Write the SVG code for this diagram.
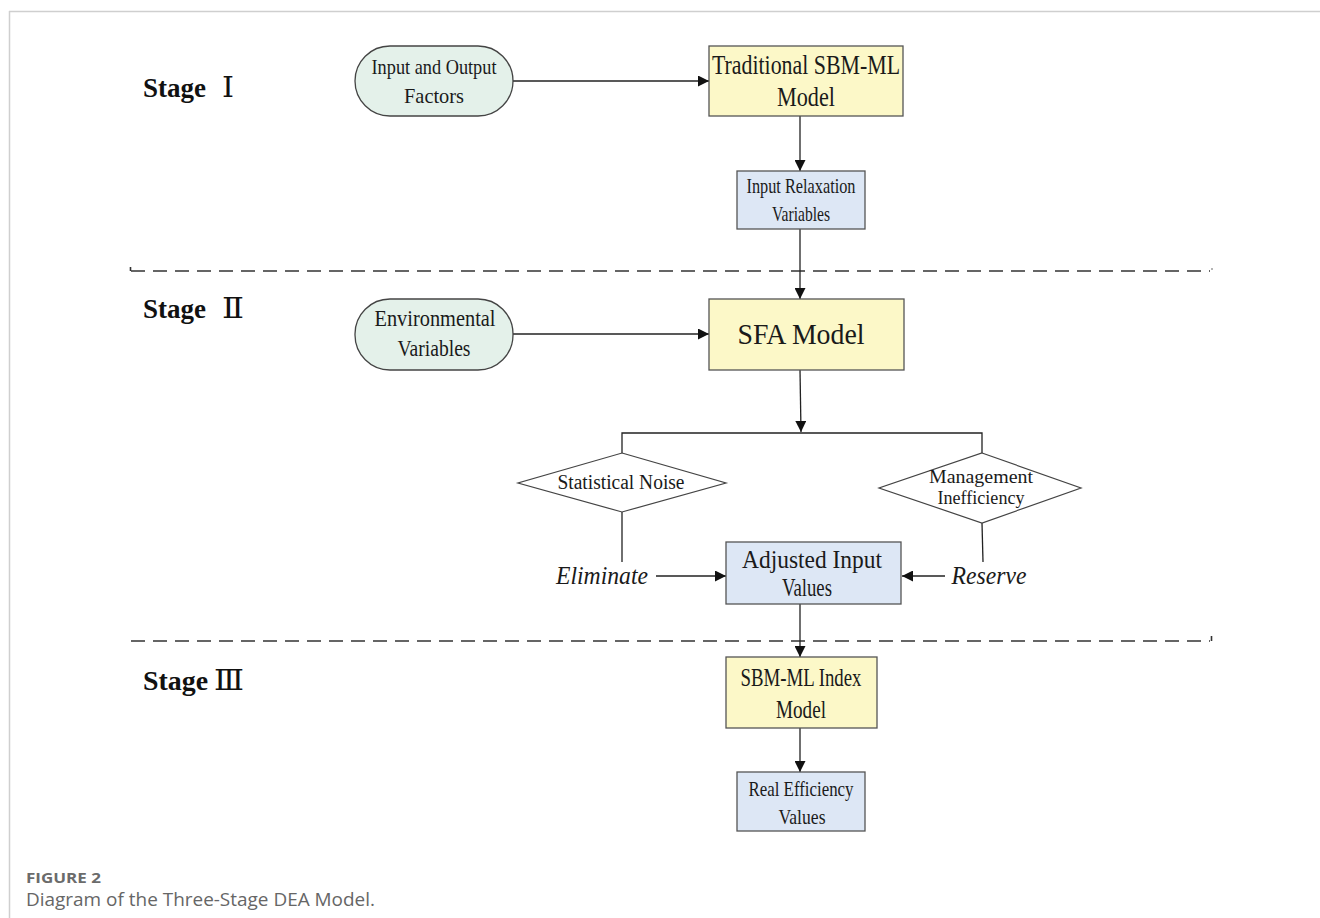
<svg xmlns="http://www.w3.org/2000/svg" width="1320" height="918" viewBox="0 0 1320 918">
<defs>
<marker id="ah" viewBox="0 0 10 10" refX="10" refY="5" markerWidth="11" markerHeight="11" markerUnits="userSpaceOnUse" orient="auto">
<path d="M0,0 L10,5 L0,10 z" fill="#111"/>
</marker>
<style>
.t{font-family:"Liberation Serif","Times New Roman",Times,serif;fill:#1a1a1a;text-anchor:middle}
.st{font-family:"Liberation Serif","Times New Roman",Times,serif;font-weight:bold;font-size:27px;fill:#111}
.num{font-family:"DejaVu Serif","Liberation Serif",serif;font-weight:normal;font-size:27px;fill:#111}
.pill{fill:#e4f1ea;stroke:#444;stroke-width:1.3}
.yel{fill:#fcf8c8;stroke:#555;stroke-width:1.3}
.blu{fill:#dde7f5;stroke:#555;stroke-width:1.3}
.dia{fill:#ffffff;stroke:#444;stroke-width:1.2}
.c{stroke:#222;stroke-width:1.3;fill:none}
.a{stroke:#222;stroke-width:1.3;fill:none;marker-end:url(#ah)}
.dash{stroke:#333;stroke-width:1.6;stroke-dasharray:14,8;fill:none}
.it{font-family:"Liberation Serif","Times New Roman",Times,serif;font-style:italic;font-size:25px;fill:#1a1a1a;text-anchor:middle}
</style>
</defs>
<rect width="1320" height="918" fill="#fff"/>
<g id="frame">
<line x1="9" y1="11.5" x2="1320" y2="11.5" stroke="#cfcfcf" stroke-width="1.5"/>
<line x1="9.5" y1="11" x2="9.5" y2="918" stroke="#cfcfcf" stroke-width="1.5"/>
</g>
<g id="separators">
<path class="dash" d="M131,271 L1210,271"/>
<path d="M130.5,267 L130.5,271" stroke="#333" stroke-width="1.6"/>
<circle cx="1212" cy="269" r="0.8" fill="#555"/>
<path class="dash" d="M131,641 L1210,641"/>
<path d="M1211.5,636 L1211.5,641" stroke="#333" stroke-width="1.6"/>
</g>
<g id="stage-labels">
<text class="st" x="143" y="97">Stage</text>
<text class="num" x="222" y="97" textLength="12" lengthAdjust="spacingAndGlyphs">Ⅰ</text>
<text class="st" x="143" y="318">Stage</text>
<text class="num" x="222" y="318" textLength="22" lengthAdjust="spacingAndGlyphs">Ⅱ</text>
<text class="st" x="143" y="690" textLength="65" lengthAdjust="spacingAndGlyphs">Stage</text>
<text class="num" x="214" y="690" textLength="30" lengthAdjust="spacingAndGlyphs">Ⅲ</text>
</g>
<g id="connectors">
<line class="a" x1="513" y1="81" x2="709" y2="81"/>
<line class="a" x1="800" y1="116" x2="800" y2="171"/>
<line class="a" x1="800" y1="229" x2="800" y2="299"/>
<line class="a" x1="513" y1="334" x2="709" y2="334"/>
<line class="a" x1="800" y1="370" x2="801" y2="432"/>
<path class="c" d="M622,453 L622,433 L982,433 L982,453"/>
<line class="c" x1="622" y1="512" x2="622" y2="562"/>
<line class="c" x1="982" y1="523" x2="983" y2="562"/>
<line class="a" x1="656" y1="576" x2="726" y2="576"/>
<line class="a" x1="945" y1="576" x2="902" y2="576"/>
<line class="a" x1="800" y1="604" x2="800" y2="657"/>
<line class="a" x1="800" y1="728" x2="800" y2="772"/>
</g>
<g id="input-output-factors">
<rect class="pill" x="355" y="46" width="158" height="70" rx="35" ry="35"/>
<text class="t" x="434" y="74" font-size="22" textLength="125" lengthAdjust="spacingAndGlyphs">Input and Output</text>
<text class="t" x="434" y="103" font-size="22" textLength="60" lengthAdjust="spacingAndGlyphs">Factors</text>
</g>
<g id="traditional-sbm-ml">
<rect class="yel" x="709" y="46" width="194" height="70"/>
<text class="t" x="806" y="74" font-size="27" textLength="188" lengthAdjust="spacingAndGlyphs">Traditional SBM-ML</text>
<text class="t" x="806" y="106" font-size="27" textLength="58" lengthAdjust="spacingAndGlyphs">Model</text>
</g>
<g id="input-relaxation">
<rect class="blu" x="737" y="171" width="128" height="58"/>
<text class="t" x="801" y="193" font-size="21" textLength="109" lengthAdjust="spacingAndGlyphs">Input Relaxation</text>
<text class="t" x="801" y="221" font-size="21" textLength="58" lengthAdjust="spacingAndGlyphs">Variables</text>
</g>
<g id="environmental-variables">
<rect class="pill" x="355" y="299" width="158" height="71" rx="35" ry="35"/>
<text class="t" x="435" y="326" font-size="23" textLength="121" lengthAdjust="spacingAndGlyphs">Environmental</text>
<text class="t" x="434" y="356" font-size="23" textLength="73" lengthAdjust="spacingAndGlyphs">Variables</text>
</g>
<g id="sfa-model">
<rect class="yel" x="709" y="299" width="195" height="71"/>
<text class="t" x="801" y="344" font-size="30" textLength="127" lengthAdjust="spacingAndGlyphs">SFA Model</text>
</g>
<g id="statistical-noise">
<polygon class="dia" points="622,453 726,483 622,512 518,483"/>
<text class="t" x="621" y="489" font-size="20" textLength="127" lengthAdjust="spacingAndGlyphs">Statistical Noise</text>
</g>
<g id="management-inefficiency">
<polygon class="dia" points="982,453 1081,488 982,523 879,488"/>
<text class="t" x="981" y="483" font-size="19" textLength="104" lengthAdjust="spacingAndGlyphs">Management</text>
<text class="t" x="981" y="504" font-size="19" textLength="87" lengthAdjust="spacingAndGlyphs">Inefficiency</text>
</g>
<g id="eliminate">
<text class="it" x="602" y="584" textLength="92" lengthAdjust="spacingAndGlyphs">Eliminate</text>
</g>
<g id="reserve">
<text class="it" x="989" y="584" textLength="75" lengthAdjust="spacingAndGlyphs">Reserve</text>
</g>
<g id="adjusted-input">
<rect class="blu" x="726" y="542" width="175" height="62"/>
<text class="t" x="812" y="568" font-size="25" textLength="140" lengthAdjust="spacingAndGlyphs">Adjusted Input</text>
<text class="t" x="807" y="596" font-size="25" textLength="50" lengthAdjust="spacingAndGlyphs">Values</text>
</g>
<g id="sbm-ml-index">
<rect class="yel" x="726" y="657" width="151" height="71"/>
<text class="t" x="801" y="686" font-size="25" textLength="121" lengthAdjust="spacingAndGlyphs">SBM-ML Index</text>
<text class="t" x="801" y="718" font-size="25" textLength="50" lengthAdjust="spacingAndGlyphs">Model</text>
</g>
<g id="real-efficiency">
<rect class="blu" x="737" y="772" width="128" height="59"/>
<text class="t" x="801" y="796" font-size="21" textLength="105" lengthAdjust="spacingAndGlyphs">Real Efficiency</text>
<text class="t" x="802" y="824" font-size="21" textLength="47" lengthAdjust="spacingAndGlyphs">Values</text>
</g>
<g id="caption">
<text x="26" y="883" font-family="'Open Sans','Noto Sans',sans-serif" font-weight="bold" font-size="15" fill="#6b6b6b" textLength="75" lengthAdjust="spacingAndGlyphs">FIGURE 2</text>
<text x="26" y="906" font-family="'Open Sans','Noto Sans',sans-serif" font-size="19" fill="#666" textLength="349" lengthAdjust="spacingAndGlyphs">Diagram of the Three-Stage DEA Model.</text>
</g>
</svg>
